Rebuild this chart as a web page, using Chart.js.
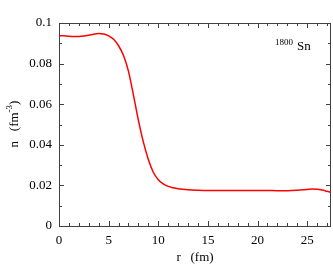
<!DOCTYPE html>
<html>
<head>
<meta charset="utf-8">
<script src="https://cdn.jsdelivr.net/npm/chart.js@4/dist/chart.umd.min.js"></script>
<style>
  html, body { margin: 0; padding: 0; background: #fff; }
  #wrap { width: 333px; height: 265px; }
</style>
</head>
<body>
<div id="wrap"><canvas id="densityChart" width="333" height="265"></canvas></div>
<script>
// density profile n(r)
const radii = [0, 0.5, 1, 1.5, 2, 2.5, 3, 3.5, 4, 4.5, 5, 5.5, 6, 6.5, 7, 7.5, 8, 8.5, 9, 9.5, 10,
    10.5, 11, 11.5, 12, 13, 14, 15, 16, 17, 18, 19, 20, 21, 22, 23, 24, 25, 25.5, 26, 26.5, 27, 27.4];
const density = [0.0938, 0.0937, 0.0935, 0.0934, 0.0934, 0.0936, 0.0940, 0.0945, 0.0948, 0.0946, 0.0937,
    0.0920, 0.0888, 0.0840, 0.0762, 0.0645, 0.0520, 0.0413, 0.0328, 0.0265, 0.0228,
    0.0207, 0.0195, 0.0188, 0.0183, 0.0178, 0.0176, 0.0175, 0.0175, 0.0175, 0.0175, 0.0175, 0.0175,
    0.0175, 0.0174, 0.0174, 0.0176, 0.0180, 0.0182, 0.0181, 0.0177, 0.0171, 0.0166];
const xTicks = [0, 5, 10, 15, 20, 25];
const yTicks = [0, 0.02, 0.04, 0.06, 0.08, 0.1];
const X_MAX = 27.4;
const Y_MAX = 0.1;

const FONT = '"Liberation Serif"';
const AXIS_COLOR = '#404040';

// frame + inward ticks on all four sides + titles
const framePlugin = {
    id: 'frame',
    afterDraw(chart) {
        const { ctx, chartArea: a, scales } = chart;
        const xs = scales.x, ys = scales.y;
        ctx.save();
        ctx.strokeStyle = AXIS_COLOR;
        ctx.lineWidth = 1;
        ctx.strokeRect(Math.round(a.left) + 0.5, Math.round(a.top) + 0.5,
            Math.round(a.right - a.left) - 1, Math.round(a.bottom - a.top));

        ctx.beginPath();
        for (let v = 0; v <= X_MAX; v += 1) {
            const px = Math.round(xs.getPixelForValue(v)) + 0.5;
            const len = v % 5 === 0 ? 5 : 3;
            ctx.moveTo(px, a.bottom); ctx.lineTo(px, a.bottom - len);
            ctx.moveTo(px, a.top); ctx.lineTo(px, a.top + len);
        }
        for (let i = 0; i <= 10; i++) {
            const py = Math.round(ys.getPixelForValue(i * 0.01)) + 0.5;
            const len = i % 2 === 0 ? 5 : 3;
            ctx.moveTo(a.left, py); ctx.lineTo(a.left + len, py);
            ctx.moveTo(a.right, py); ctx.lineTo(a.right - len, py);
        }
        ctx.stroke();

        ctx.fillStyle = '#000';
        // x title
        ctx.font = '13px ' + FONT;
        ctx.textAlign = 'center';
        ctx.textBaseline = 'alphabetic';
        ctx.fillText('r   (fm)', (a.left + a.right) / 2, 261);

        // y title with superscript
        ctx.save();
        ctx.translate(18, 124);
        ctx.rotate(-Math.PI / 2);
        ctx.textAlign = 'left';
        const p1 = 'n   (fm', p2 = '-3', p3 = ')';
        ctx.font = '13px ' + FONT;
        const w1 = ctx.measureText(p1).width, w3 = ctx.measureText(p3).width;
        ctx.font = '9px ' + FONT;
        const w2 = ctx.measureText(p2).width;
        const x0 = -(w1 + w2 + w3) / 2;
        ctx.font = '13px ' + FONT;
        ctx.fillText(p1, x0, 0);
        ctx.font = '9px ' + FONT;
        ctx.fillText(p2, x0 + w1, -6);
        ctx.font = '13px ' + FONT;
        ctx.fillText(p3, x0 + w1 + w2, 0);
        ctx.restore();

        // nucleus label
        ctx.textAlign = 'left';
        ctx.font = '9px ' + FONT;
        ctx.fillText('1800', 275, 45);
        ctx.font = '13px ' + FONT;
        ctx.fillText('Sn', 297, 50);
        ctx.restore();
    }
};

new Chart(document.getElementById('densityChart'), {
    type: 'line',
    data: {
        datasets: [{
            data: radii.map((r, i) => ({ x: r, y: density[i] })),
            borderColor: '#ff0000',
            borderWidth: 1.5,
            pointRadius: 0,
            cubicInterpolationMode: 'monotone',
            fill: false
        }]
    },
    options: {
        responsive: false,
        animation: false,
        layout: { padding: { top: 23, right: 2, left: 0, bottom: 0 } },
        plugins: { legend: { display: false }, tooltip: { enabled: false } },
        scales: {
            x: {
                type: 'linear',
                min: 0,
                max: X_MAX,
                grid: { display: false, drawTicks: false },
                border: { display: false },
                afterFit: (s) => { s.height = 39; },
                afterBuildTicks: (s) => { s.ticks = xTicks.map(v => ({ value: v })); },
                ticks: {
                    padding: 7,
                    color: '#000',
                    font: { family: FONT, size: 13 },
                    maxRotation: 0,
                    callback: (v) => String(v)
                }
            },
            y: {
                min: 0,
                max: Y_MAX,
                grid: { display: false, drawTicks: false },
                border: { display: false },
                afterFit: (s) => { s.width = 59; },
                afterBuildTicks: (s) => { s.ticks = yTicks.map(v => ({ value: v })); },
                ticks: {
                    padding: 7,
                    color: '#000',
                    font: { family: FONT, size: 13 },
                    callback: (v) => String(v)
                }
            }
        }
    },
    plugins: [framePlugin]
});
</script>
</body>
</html>
